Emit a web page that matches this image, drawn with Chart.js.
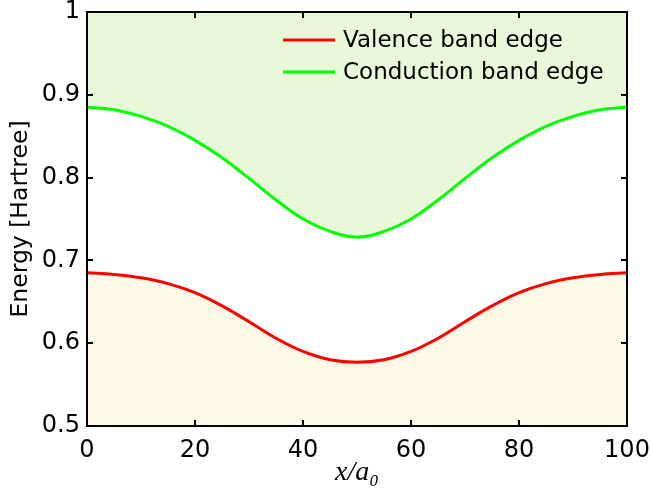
<!DOCTYPE html>
<html><head><meta charset="utf-8">
<script src="https://cdn.jsdelivr.net/npm/chart.js@4/dist/chart.umd.min.js"></script>
<style>html,body{margin:0;padding:0;background:#fff;overflow:hidden}#wrap{width:651px;height:492px}</style>
</head><body><div id="wrap"><canvas id="c" width="651" height="492"></canvas></div>
<script>
const xValues = [0,5,10,15,20,25,30,35,40,45,50,55,60,65,70,75,80,85,90,95,100];
const valenceEdge = [0.685,0.683,0.679,0.672,0.661,0.645,0.626,0.606,0.590,0.580,0.577,0.580,0.590,0.606,0.626,0.645,0.661,0.672,0.679,0.683,0.685];
const conductionEdge = [0.885,0.882,0.874,0.862,0.845,0.824,0.799,0.773,0.750,0.735,0.728,0.735,0.750,0.773,0.799,0.824,0.845,0.862,0.874,0.882,0.885];
const xTicks = [0,20,40,60,80,100];
const yTicks = [0.5,0.6,0.7,0.8,0.9,1];
const seriesLabels = ['Valence band edge','Conduction band edge'];
const xTitle = 'x/a\u2080';
const yTitle = 'Energy [Hartree]';
const SANS = '"DejaVu Sans", Arial, sans-serif';

const frame = {
  id:'frame',
  afterDatasetsDraw(chart){
    const {ctx, chartArea:a, scales:{x,y}} = chart;
    ctx.save();
    ctx.strokeStyle='#000'; ctx.lineWidth=2;
    ctx.beginPath();
    x.ticks.forEach(t=>{const p=Math.round(x.getPixelForValue(t.value));
      ctx.moveTo(p,a.bottom); ctx.lineTo(p,a.bottom-6);
      ctx.moveTo(p,a.top); ctx.lineTo(p,a.top+6);});
    y.ticks.forEach(t=>{const p=Math.round(y.getPixelForValue(t.value));
      ctx.moveTo(a.left,p); ctx.lineTo(a.left+6,p);
      ctx.moveTo(a.right,p); ctx.lineTo(a.right-6,p);});
    ctx.stroke();
    ctx.strokeRect(a.left,a.top,a.width,a.height);
    const ds = chart.data.datasets;
    const rows = [40,72];
    ctx.font = '23px ' + SANS;
    ctx.textBaseline='middle'; ctx.textAlign='left';
    ds.forEach((d,i)=>{
      ctx.strokeStyle=d.borderColor; ctx.lineWidth=3;
      ctx.beginPath(); ctx.moveTo(283,rows[i]); ctx.lineTo(335,rows[i]); ctx.stroke();
      ctx.fillStyle='#000'; ctx.fillText(d.label,343,rows[i]+1);
    });
    ctx.restore();
  }
};

new Chart(document.getElementById('c'),{
  type:'line',
  data:{datasets:[
    {label:seriesLabels[0], data:xValues.map((v,i)=>({x:v,y:valenceEdge[i]})),
     borderColor:'#ff0000', backgroundColor:'#fcf9e7', fill:'start', borderWidth:3, pointRadius:0, tension:0.4},
    {label:seriesLabels[1], data:xValues.map((v,i)=>({x:v,y:conductionEdge[i]})),
     borderColor:'#00ff00', backgroundColor:'#eaf8da', fill:'end', borderWidth:3, pointRadius:0, tension:0.4}
  ]},
  options:{
    responsive:false, animation:false, devicePixelRatio:1,
    layout:{padding:{top:12,right:24,left:0,bottom:0}},
    plugins:{legend:{display:false},tooltip:{enabled:false}},
    scales:{
      x:{type:'linear',min:0,max:100,
        afterBuildTicks:s=>{s.ticks=xTicks.map(v=>({value:v}));},
        afterFit:s=>{s.height=66;s.paddingLeft=0;s.paddingRight=0;},
        grid:{display:false,drawTicks:false}, border:{display:false},
        ticks:{padding:10,color:'#000',maxRotation:0,font:{family:SANS,size:24},callback:v=>String(v)},
        title:{display:true,text:xTitle,color:'#000',padding:{top:0,bottom:3},font:{family:'"Liberation Serif","Times New Roman",serif',size:28,style:'italic'}}
      },
      y:{type:'linear',min:0.5,max:1,
        afterBuildTicks:s=>{s.ticks=yTicks.map(v=>({value:v}));},
        afterFit:s=>{s.width=87;s.paddingTop=0;s.paddingBottom=0;},
        grid:{display:false,drawTicks:false}, border:{display:false},
        ticks:{padding:7,color:'#000',font:{family:SANS,size:24},callback:v=>String(Number(v.toFixed(1)))},
        title:{display:true,text:yTitle,color:'#000',padding:{top:7,bottom:0},font:{family:SANS,size:23.5}}
      }
    }
  },
  plugins:[frame]
});
</script></body></html>
